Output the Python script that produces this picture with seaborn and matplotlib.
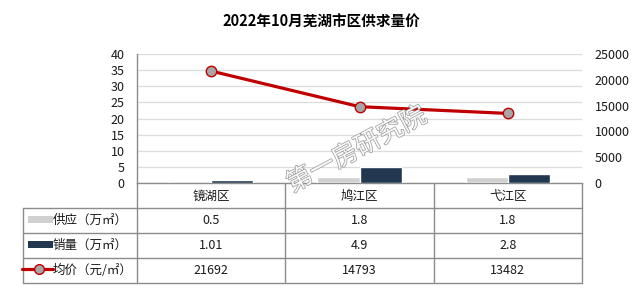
import numpy as np
import pandas as pd
import matplotlib
matplotlib.use("Agg")
import matplotlib.pyplot as plt
import seaborn as sns
from matplotlib import patheffects as pe
from matplotlib.patches import Rectangle
from matplotlib.lines import Line2D

# ---------------- data ----------------
title = "2022年10月芜湖市区供求量价"
districts = ["镜湖区", "鸠江区", "弋江区"]
supply = [0.5, 1.8, 1.8]
sales = [1.01, 4.9, 2.8]
price = [21692, 14793, 13482]
supply_label = "供应（万㎡）"
sales_label = "销量（万㎡）"
price_label = "均价（元/㎡）"
left_ticks = [0, 5, 10, 15, 20, 25, 30, 35, 40]
right_ticks = [0, 5000, 10000, 15000, 20000, 25000]
watermark = "第一房研究院"

# ---------------- style ----------------
sns.set_theme(style="white")
plt.rcParams["font.family"] = ["Noto Sans CJK SC", "DejaVu Sans"]

c_supply = "#D0D0D0"
c_sales = "#223750"
c_line = "#C00000"
c_marker = "#A6A6A6"
c_grid = "#DCDCDC"
c_table = "#8C8C8C"
c_text = "#1A1A1A"

W, H = 642, 292
fig = plt.figure(figsize=(W / 100, H / 100), dpi=100)

# plot area in pixel coords
L, R, T, B = 137, 582, 54, 183
ax = fig.add_axes([L / W, 1 - B / H, (R - L) / W, (B - T) / H])

df = pd.DataFrame({
    "district": districts * 2,
    "series": [supply_label] * len(districts) + [sales_label] * len(districts),
    "value": supply + sales,
})
sns.barplot(data=df, x="district", y="value", hue="series",
            palette=[c_supply, c_sales], width=0.57, gap=0,
            saturation=1, legend=False, ax=ax, zorder=3)
ax.set_xlim(-0.5, len(districts) - 0.5)
ax.set_ylim(left_ticks[0], left_ticks[-1])
ax.set_yticks(left_ticks)
ax.set_xticks([])
ax.set_xlabel("")
ax.set_ylabel("")
ax.yaxis.grid(True, color=c_grid, lw=0.9)
ax.set_axisbelow(True)
for s in ["top", "right"]:
    ax.spines[s].set_visible(False)
ax.spines["left"].set_color(c_table)
ax.spines["bottom"].set_color(c_table)
ax.spines["left"].set_linewidth(1)
ax.spines["bottom"].set_linewidth(1)
ax.tick_params(axis="y", length=0, pad=9, labelsize=9, labelcolor=c_text)
ax.set_facecolor("none")

ax2 = ax.twinx()
sns.lineplot(x=np.arange(len(districts)), y=price, ax=ax2, color=c_line,
             lw=2.3, marker="o", markersize=7.5, markerfacecolor=c_marker,
             markeredgecolor=c_line, markeredgewidth=1, zorder=4)
ax2.set_ylim(right_ticks[0], right_ticks[-1])
ax2.set_yticks(right_ticks)
ax2.set_ylabel("")
for s in ax2.spines.values():
    s.set_visible(False)
ax2.tick_params(axis="y", length=0, pad=9, labelsize=9, labelcolor=c_text)
ax2.grid(False)

# ---------------- title ----------------
fig.text(0.5, 1 - 22 / H, title, ha="center", va="center",
         fontsize=10.5, fontweight="bold", color="#000000")

# ---------------- data table (overlay in pixel coords) ----------------
ov = fig.add_axes([0, 0, 1, 1], zorder=5)
ov.set_xlim(0, W)
ov.set_ylim(H, 0)
ov.axis("off")
ov.set_facecolor("none")

n = len(districts)
col_edges = [L + (R - L) * i / n for i in range(n + 1)]
col_centers = [(col_edges[i] + col_edges[i + 1]) / 2 for i in range(n)]
tab_left = 23
row_edges = [B, 208, 233, 258, 283]

lw = 1.0
for y in row_edges[1:]:
    ov.add_line(Line2D([tab_left, R], [y, y], color=c_table, lw=lw))
ov.add_line(Line2D([tab_left, tab_left], [row_edges[1], row_edges[-1]], color=c_table, lw=lw))
for x in col_edges:
    ov.add_line(Line2D([x, x], [B, row_edges[-1]], color=c_table, lw=lw))

hy = (row_edges[0] + row_edges[1]) / 2 + 1
for xc, d in zip(col_centers, districts):
    ov.text(xc, hy, d, ha="center", va="center", fontsize=9, color=c_text)

rows = [
    (supply_label, supply, "bar", c_supply),
    (sales_label, sales, "bar", c_sales),
    (price_label, price, "line", c_line),
]
for i, (lab, vals, kind, col) in enumerate(rows):
    yc = (row_edges[i + 1] + row_edges[i + 2]) / 2
    if kind == "bar":
        ov.add_patch(Rectangle((28, yc - 5), 25, 7, color=col, lw=0))
    else:
        ov.add_line(Line2D([22, 53], [yc - 1.5, yc - 1.5], color=c_line, lw=2.3))
        ov.plot([39], [yc - 1.5], marker="o", markersize=7,
                markerfacecolor=c_marker, markeredgecolor=c_line, markeredgewidth=1)
    ov.text(53, yc, lab, ha="left", va="center", fontsize=9, color=c_text)
    for xc, v in zip(col_centers, vals):
        ov.text(xc, yc, f"{v:g}", ha="center", va="center", fontsize=9, color=c_text)

# watermark
ov.text(357, 150, watermark, ha="center", va="center", rotation=28,
        fontsize=18.5, color="white", alpha=0.9,
        path_effects=[pe.withStroke(linewidth=1.0, foreground="#909090")])

fig.savefig("out.png", dpi=100)
